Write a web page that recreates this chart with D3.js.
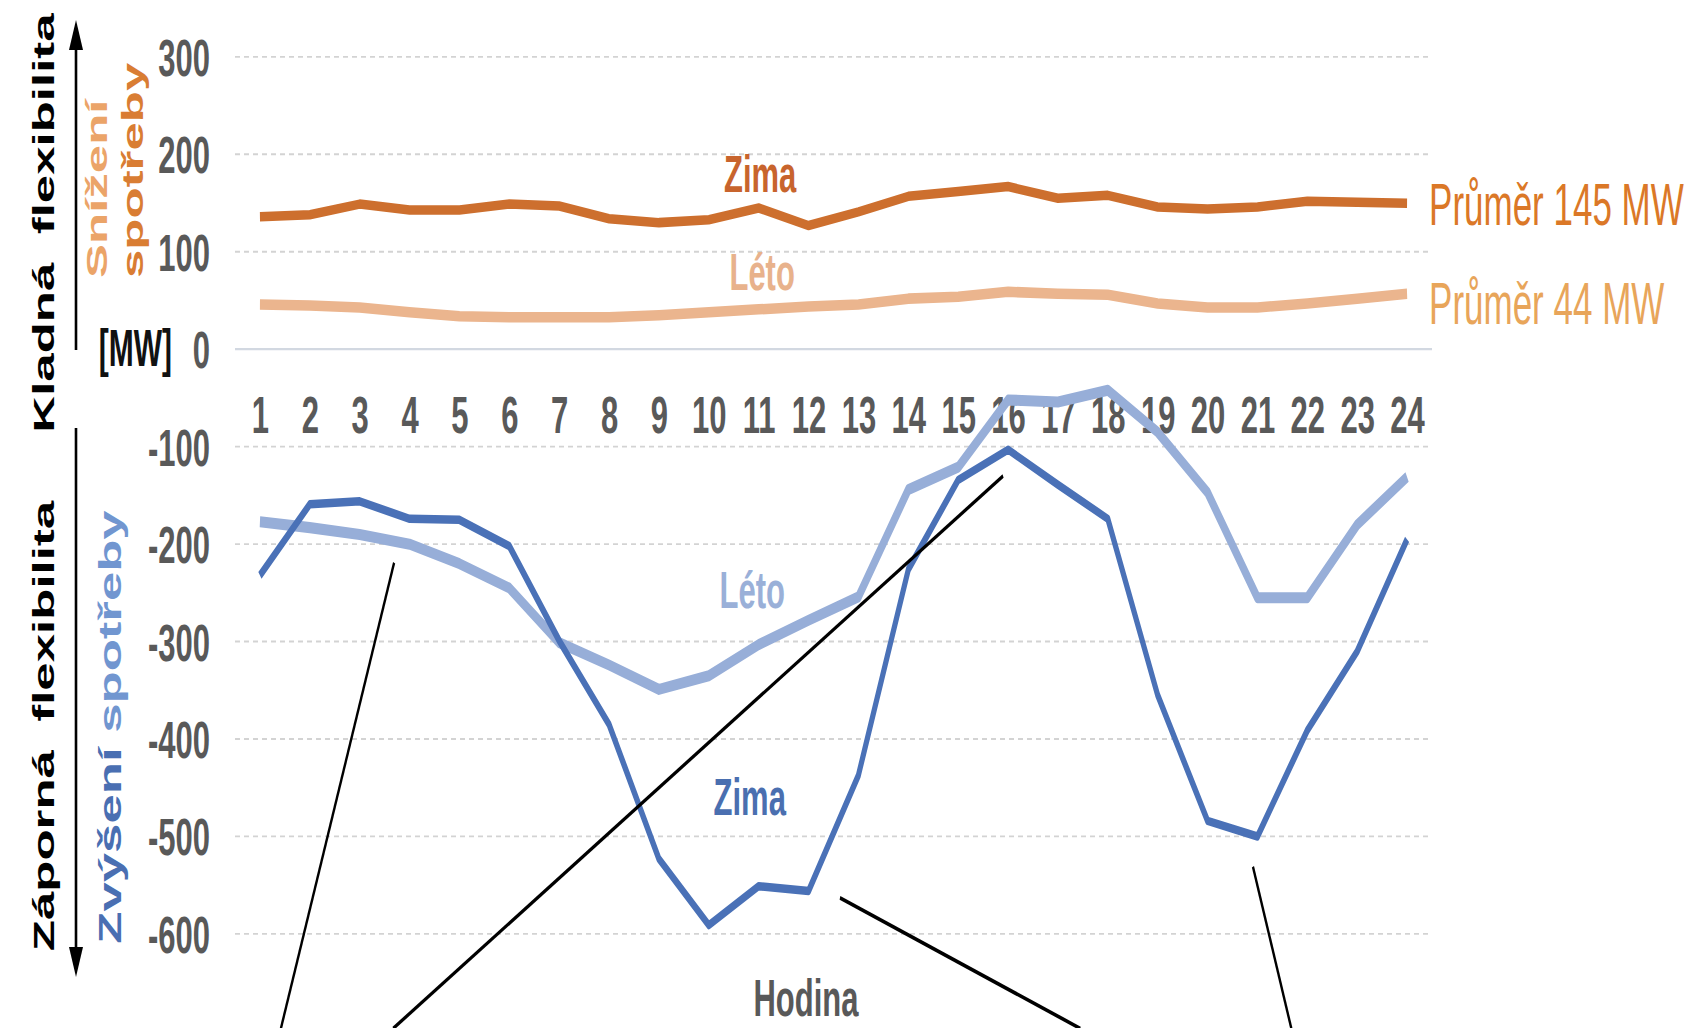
<!DOCTYPE html>
<html>
<head>
<meta charset="utf-8">
<script src="https://cdn.jsdelivr.net/npm/d3@7"></script>
<style>
  html, body { margin: 0; padding: 0; background: #fff; }
  svg { display: block; }
</style>
</head>
<body>
<svg id="chart" width="1689" height="1028"></svg>
<script>
// Hodiny dne a hodnoty flexibility [MW]
const hours = [1, 2, 3, 4, 5, 6, 7, 8, 9, 10, 11, 12, 13, 14, 15, 16, 17, 18, 19, 20, 21, 22, 23, 24];
const yTicks = [300, 200, 100, 0, -100, -200, -300, -400, -500, -600];

// Kladná flexibilita – snížení spotřeby
const zimaSnizeni = [135, 137, 148, 142, 142, 148, 146, 133, 129, 132, 144, 126, 140, 156, 161, 166, 154, 157, 145, 143, 145, 151, 150, 149];
const letoSnizeni = [45, 44, 42, 37, 33, 32, 32, 32, 34, 37, 40, 43, 45, 51, 53, 58, 56, 55, 46, 42, 42, 46, 51, 56];

// Záporná flexibilita – zvýšení spotřeby
const zimaZvyseni = [-233, -160, -157, -175, -176, -203, -300, -386, -524, -592, -552, -557, -438, -227, -135, -104, -140, -175, -356, -485, -501, -392, -311, -196];
const letoZvyseni = [-178, -184, -191, -201, -221, -246, -302, -325, -350, -336, -304, -279, -255, -145, -122, -53, -55, -43, -86, -148, -256, -256, -181, -132];

const prumerZima = 145;
const prumerLeto = 44;

// Odkazové čáry k popiskům pod grafem (hodina, MW)
const callouts = [
  { from: [3.69, -220], to: [1.42, -698] },
  { from: [15.9, -131], to: [3.67, -698] },
  { from: [12.63, -564], to: [17.45, -698] },
  { from: [20.91, -532], to: [21.68, -698] }
];

// Celý výkres je svisle protažen
const S = 1.7;
const FONT = "'Liberation Sans', Arial, sans-serif";

const svg = d3.select("#chart");
const g = svg.append("g").attr("transform", `scale(1,${S})`);

const x = d3.scalePoint().domain(hours).range([235, 1432]).padding(0.5);
const y = d3.scaleLinear().domain([-600, 300]).range([933 / S, 56 / S]);

// Mřížka a popisky osy Y
const yAxis = g.append("g")
  .attr("transform", "translate(235,0)")
  .call(d3.axisLeft(y).tickValues(yTicks).tickSize(-(1432 - 235)).tickFormat(d => String(d)));
yAxis.select(".domain").remove();
yAxis.selectAll(".tick line")
  .attr("stroke", d => d === 0 ? "#d2d8e1" : "#d3d3d3")
  .attr("stroke-width", d => d === 0 ? 1.4 : 1.1)
  .attr("stroke-dasharray", d => d === 0 ? null : "5,4");
yAxis.selectAll(".tick text")
  .attr("x", -25)
  .attr("dy", "0.36em")
  .attr("font-family", FONT)
  .attr("font-size", 31)
  .attr("font-weight", "bold")
  .attr("fill", "#595959");

// Popisky hodin
const xAxis = g.append("g")
  .attr("transform", `translate(0,${433 / S})`)
  .call(d3.axisBottom(x).tickSize(0));
xAxis.select(".domain").remove();
xAxis.selectAll(".tick text")
  .attr("y", 0)
  .attr("dy", 0)
  .attr("font-family", FONT)
  .attr("font-size", 31)
  .attr("font-weight", "bold")
  .attr("fill", "#595959");

// Křivky
const line = d3.line().x((d, i) => x(hours[i])).y(d => y(d));
const series = [
  { values: letoSnizeni, color: "#ebb58e", width: 6.2 },
  { values: zimaSnizeni, color: "#cd6f2e", width: 5.6 },
  { values: letoZvyseni, color: "#97aed8", width: 6.5 },
  { values: zimaZvyseni, color: "#4a71b7", width: 5 }
];
g.append("g").selectAll("path")
  .data(series)
  .join("path")
  .attr("d", d => line(d.values))
  .attr("fill", "none")
  .attr("stroke", d => d.color)
  .attr("stroke-width", d => d.width)
  .attr("stroke-linejoin", "round");

// Poloha mezi hodinami
const hx = h => x(1) + (h - 1) * x.step();

// Popisky křivek
const labels = [
  { text: "Zima", h: 11.03, v: 160, color: "#c8642d" },
  { text: "Léto", h: 11.07, v: 60, color: "#e8b28c" },
  { text: "Léto", h: 10.87, v: -266, color: "#9ab0d8" },
  { text: "Zima", h: 10.82, v: -479, color: "#4a6fb0" }
];
g.append("g").selectAll("text")
  .data(labels)
  .join("text")
  .attr("x", d => hx(d.h))
  .attr("y", d => y(d.v))
  .attr("text-anchor", "middle")
  .attr("font-family", FONT)
  .attr("font-size", 31)
  .attr("font-weight", "bold")
  .attr("fill", d => d.color)
  .text(d => d.text);

// Průměry
const avgLabels = [
  { text: `Průměr ${prumerZima} MW`, v: zimaSnizeni[23], shift: 0, color: "#db7827" },
  { text: `Průměr ${prumerLeto} MW`, v: letoSnizeni[23], shift: 9, color: "#e8a55a" }
];
g.append("g").selectAll("text")
  .data(avgLabels)
  .join("text")
  .attr("x", x(24) + 22)
  .attr("y", d => y(d.v) + d.shift / S)
  .attr("dy", "0.36em")
  .attr("font-family", FONT)
  .attr("font-size", 35)
  .attr("fill", d => d.color)
  .text(d => d.text);

// Název osy X
g.append("text")
  .attr("x", 806)
  .attr("y", 1016 / S)
  .attr("text-anchor", "middle")
  .attr("font-family", FONT)
  .attr("font-size", 31)
  .attr("font-weight", "bold")
  .attr("fill", "#595959")
  .text("Hodina");

// Jednotka
g.append("text")
  .attr("x", 172)
  .attr("y", 348 / S)
  .attr("dy", "0.36em")
  .attr("text-anchor", "end")
  .attr("font-family", FONT)
  .attr("font-size", 30)
  .attr("font-weight", "bold")
  .attr("fill", "#111")
  .text("[MW]");

// Svislé popisky vlevo
function vText(xBase, yPos, anchor, size, parts) {
  const t = g.append("text")
    .attr("transform", `translate(${xBase},${yPos / S}) rotate(-90)`)
    .attr("text-anchor", anchor)
    .attr("font-family", FONT)
    .attr("font-size", size)
    .attr("font-weight", "bold")
    .style("white-space", "pre");
  parts.forEach(p => t.append("tspan").attr("fill", p.color).text(p.text));
}
vText(54, 223, "middle", 30, [{ text: "Kladná  flexibilita", color: "#000" }]);
vText(54, 726, "middle", 30, [{ text: "Záporná  flexibilita", color: "#000" }]);
vText(107, 278, "start", 30, [{ text: "Snížení", color: "#eba468" }]);
vText(143, 278, "start", 30, [{ text: "spotřeby", color: "#d97d33" }]);
vText(121, 727, "middle", 31, [
  { text: "Zvýšení ", color: "#4a6fb2" },
  { text: "spotřeby", color: "#7196d0" }
]);

// Šipky
const arrows = g.append("g").attr("stroke", "#000").attr("fill", "#000");
arrows.append("line").attr("x1", 76).attr("x2", 76).attr("y1", 350 / S).attr("y2", 40 / S).attr("stroke-width", 2.6);
arrows.append("path").attr("stroke", "none")
  .attr("d", `M76,${20 / S} L83,${50 / S} L69,${50 / S} Z`);
arrows.append("line").attr("x1", 76).attr("x2", 76).attr("y1", 428 / S).attr("y2", 955 / S).attr("stroke-width", 2.6);
arrows.append("path").attr("stroke", "none")
  .attr("d", `M76,${977 / S} L83,${947 / S} L69,${947 / S} Z`);

// Odkazové čáry
g.append("g").selectAll("line")
  .data(callouts)
  .join("line")
  .attr("x1", d => hx(d.from[0]))
  .attr("y1", d => y(d.from[1]))
  .attr("x2", d => hx(d.to[0]))
  .attr("y2", d => y(d.to[1]))
  .attr("stroke", "#000")
  .attr("stroke-width", 2.3);
</script>
</body>
</html>
